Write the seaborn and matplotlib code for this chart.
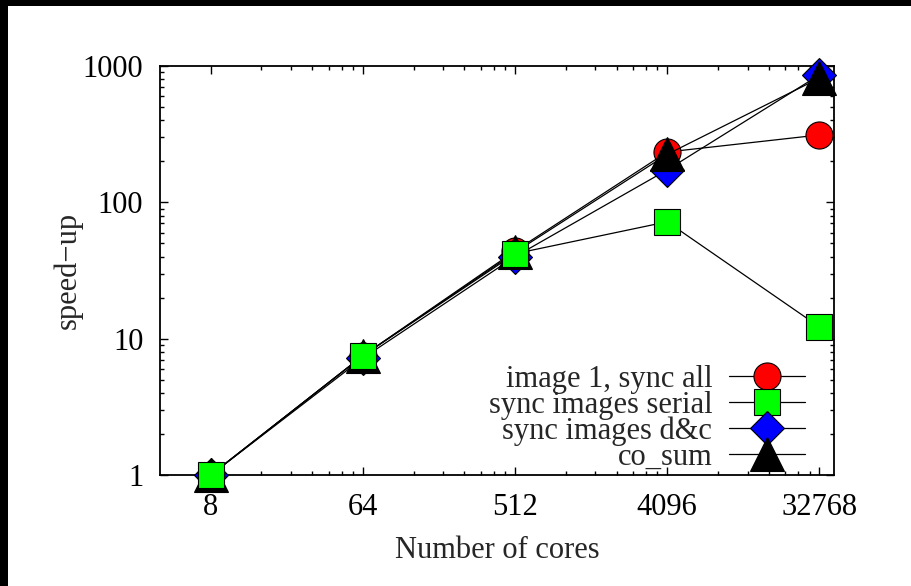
import numpy as np
import pandas as pd
import matplotlib
matplotlib.use("Agg")
import matplotlib.pyplot as plt
import matplotlib.ticker as mticker
from matplotlib.patches import Rectangle
import seaborn as sns

# Core counts and measured speed-ups
cores = [8, 64, 512, 4096, 32768]
sync_all = [1.0, 7.5, 44, 234, 312]
sync_serial = [1.0, 7.5, 42, 72, 12.2]
sync_dc = [1.0, 7.2, 40, 173, 860]
co_sum = [1.0, 7.5, 43, 225, 815]

series_names = ["image 1, sync all", "sync images serial", "sync images d&c", "co_sum"]
y_ticks = [1, 10, 100, 1000]

df = pd.DataFrame({
    "cores": cores * 4,
    "speedup": sync_all + sync_serial + sync_dc + co_sum,
    "series": np.repeat(series_names, len(cores)),
})

sns.set_theme(style="ticks")
plt.rcParams["font.family"] = ["Liberation Serif", "DejaVu Serif"]

fig = plt.figure(figsize=(9.11, 5.86), dpi=100)
ax = fig.add_axes([160 / 911, 1 - 475 / 586, (834 - 160) / 911, (475 - 66) / 586])

styles = {
    "image 1, sync all": dict(marker="o", markerfacecolor="#ff0000", markersize=19.5, zorder=3),
    "sync images serial": dict(marker="s", markerfacecolor="#00ff00", markersize=19, zorder=6),
    "sync images d&c": dict(marker="D", markerfacecolor="#0000ff", markersize=17.5, zorder=4),
    "co_sum": dict(marker="^", markerfacecolor="#000000", markersize=24, zorder=5),
}

for name in series_names:
    sub = df[df["series"] == name]
    sns.lineplot(data=sub, x="cores", y="speedup", ax=ax, color="black",
                 linewidth=0.9, markeredgecolor="black", markeredgewidth=0.8,
                 label=name, estimator=None, sort=False, clip_on=False, **styles[name])

ax.set_xscale("log", base=2)
ax.set_yscale("log")
ax.set_xlim(4, 40000)
ax.set_ylim(1, 1000)

ax.xaxis.set_major_locator(mticker.FixedLocator(cores))
ax.xaxis.set_major_formatter(mticker.FixedFormatter([str(c) for c in cores]))
ax.xaxis.set_minor_locator(mticker.FixedLocator([c * s for c in cores[:-1] for s in range(2, 8)]))
ax.xaxis.set_minor_formatter(mticker.NullFormatter())

ax.yaxis.set_major_locator(mticker.FixedLocator(y_ticks))
ax.yaxis.set_major_formatter(mticker.FixedFormatter([str(v) for v in y_ticks]))
ax.yaxis.set_minor_locator(mticker.LogLocator(base=10, subs=np.arange(2, 10)))
ax.yaxis.set_minor_formatter(mticker.NullFormatter())

ax.tick_params(which="both", direction="in", top=True, right=True, colors="black",
               labelsize=22, width=1.0)
ax.tick_params(which="major", length=5.5)
ax.tick_params(which="minor", length=3)
ax.tick_params(axis="x", which="major", pad=13)
ax.tick_params(axis="y", which="major", pad=12)

for sp in ax.spines.values():
    sp.set_linewidth(1.3)
    sp.set_color("black")
    sp.set_zorder(2)

ax.set_xlabel("Number of cores", fontsize=22, labelpad=10)
ax.set_ylabel("speed\u2212up", fontsize=22, labelpad=0)
ax.grid(False)

leg = ax.legend(loc="lower right", bbox_to_anchor=(0.962, 0.0), frameon=False,
                markerfirst=False, fontsize=22, handlelength=2.5, handletextpad=0.55,
                labelspacing=-0.10, borderaxespad=0.0, borderpad=0.1)
for line in leg.get_lines():
    line.set_linewidth(0.9)

# dark strips along the left and top edges of the canvas
fig.patches.append(Rectangle((0, 0), 8 / 911, 1, transform=fig.transFigure,
                             facecolor="black", edgecolor="none", zorder=10))
fig.patches.append(Rectangle((0, 1 - 6 / 586), 1, 6 / 586, transform=fig.transFigure,
                             facecolor="black", edgecolor="none", zorder=10))

fig.savefig("out.png", dpi=100, facecolor="white")
